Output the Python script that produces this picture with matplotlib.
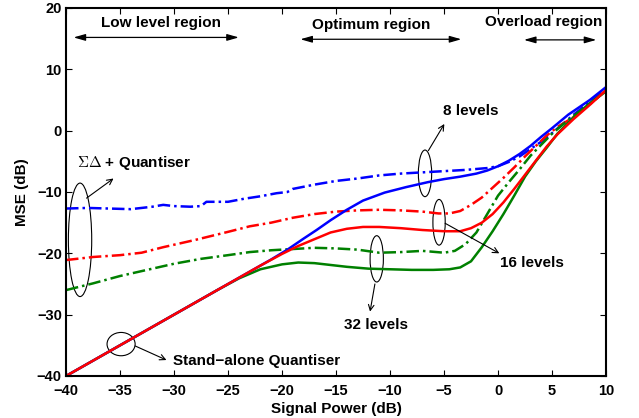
import numpy as np
import matplotlib
matplotlib.use('Agg')
from matplotlib import pyplot as plt
from matplotlib.patches import Ellipse

plt.rcParams['font.family'] = ['Liberation Sans', 'DejaVu Sans']
plt.rcParams['font.weight'] = 'bold'
plt.rcParams['mathtext.fontset'] = 'cm'

# stand-alone quantiser (solid)
x8 = [-40, -24, -21, -19.5, -18, -16.8, -15.5, -14, -12.5, -10.5, -8.5, -6.5, -5, -3.5,
      -2, -1, 0, 1, 2, 3, 4, 5, 6.5, 8.5, 10]
y8 = [-40, -24, -21, -19.4, -17.6, -16.2, -14.6, -12.9, -11.4, -10.1, -9.2, -8.4, -7.9, -7.5,
      -7.0, -6.5, -5.8, -4.9, -3.8, -2.5, -1.0, 0.4, 2.6, 5.0, 7.1]

x16 = [-40, -22, -20, -18.5, -17, -15.5, -14, -12.5, -11, -9, -7, -5, -3.5, -2.5, -1.5,
       -0.5, 0.5, 1.5, 2.5, 3.5, 4.5, 5.5, 7, 8.5, 10]
y16 = [-40, -22, -20.1, -18.8, -17.7, -16.6, -16.0, -15.7, -15.7, -15.9, -16.2, -16.4, -16.4,
       -15.9, -15.0, -13.6, -11.7, -9.5, -7.2, -4.9, -2.6, -0.6, 1.9, 4.2, 6.6]

x32 = [-40, -26, -24, -22, -20, -18.5, -17, -15.5, -14, -12, -10, -8, -6, -4.5, -3.5, -2.5,
       -1.5, -0.5, 0.5, 1.5, 2.5, 3.5, 4.5, 5.5, 7, 8.5, 10]
y32 = [-40, -26, -24.1, -22.6, -21.8, -21.5, -21.6, -21.9, -22.2, -22.5, -22.6, -22.7, -22.7,
       -22.6, -22.3, -21.3, -19.0, -16.4, -13.6, -10.6, -7.5, -5.0, -2.8, -0.5, 2.2, 4.5, 6.4]

# sigma-delta + quantiser (dash-dot)
xs8 = [-40, -38, -36, -34, -32, -31, -30, -28.5, -27.5, -27, -25, -23.5, -22, -20.5, -19.5,
       -19, -17, -15, -13, -11, -9, -7, -5, -3, -1, 0, 1, 2, 3, 4, 5, 6, 7, 8.5, 10]
ys8 = [-12.7, -12.6, -12.7, -12.8, -12.4, -12.1, -12.3, -12.4, -12.3, -11.6, -11.6, -11.1,
       -10.7, -10.2, -10.0, -9.5, -8.8, -8.2, -7.8, -7.3, -7.0, -6.8, -6.6, -6.4, -6.1, -5.8,
       -5.1, -4.2, -3.0, -1.8, -0.4, 1.1, 2.6, 4.7, 6.9]

xs16 = [-40, -37.5, -35, -33, -31, -28, -25, -23, -21, -19, -17, -15, -13, -11, -9, -7, -5.5,
        -4.5, -3.5, -2.5, -1.5, -0.5, 0.5, 1.5, 2.5, 3.5, 4.5, 5.5, 7, 8.5, 10]
ys16 = [-21.1, -20.6, -20.3, -19.9, -19.0, -17.8, -16.5, -15.6, -15.0, -14.2, -13.6, -13.2,
        -13.0, -12.9, -13.0, -13.2, -13.5, -13.5, -13.1, -12.1, -10.9, -9.3, -7.7, -6.0, -4.2,
        -2.5, -0.8, 0.6, 2.2, 4.3, 6.6]

xs32 = [-40, -37.5, -35, -32.5, -30, -27.5, -25, -23, -21, -19, -17, -15, -13, -11, -9, -7,
        -5, -4, -3, -2, -1, 0, 1, 2, 3, 4, 5, 6, 7, 8.5, 10]
ys32 = [-26.0, -24.9, -23.7, -22.7, -21.7, -20.9, -20.3, -19.8, -19.5, -19.3, -19.1, -19.2,
        -19.4, -19.9, -19.8, -19.6, -19.9, -19.6, -18.5, -16.6, -13.6, -10.6, -8.4, -6.3, -4.1,
        -2.3, -0.5, 1.0, 2.4, 4.4, 6.5]

blue, red, green = '#0000ff', '#ff0000', '#008000'
dd = (0, (5, 1.6, 1, 1.6))
lw = 1.8

fig = plt.figure(figsize=(6.39, 4.18), dpi=100)
ax = fig.add_axes([0.1033, 0.1005, 0.8451, 0.8804])

ax.plot(xs8, ys8, color=blue, lw=lw, linestyle=dd)
ax.plot(xs16, ys16, color=red, lw=lw, linestyle=dd)
ax.plot(xs32, ys32, color=green, lw=lw, linestyle=dd)
ax.plot(x32, y32, color=green, lw=lw)
ax.plot(x8, y8, color=blue, lw=lw)
ax.plot(x16, y16, color=red, lw=lw)

ax.set_xlim(-40, 10)
ax.set_ylim(-40, 20)
ax.set_xticks(np.arange(-40, 11, 5))
ax.set_yticks(np.arange(-40, 21, 10))
ax.tick_params(direction='in', top=True, right=True, length=4, width=0.8,
               labelsize=10.5)
ax.tick_params(axis='x', pad=6)
ax.tick_params(axis='y', pad=3)
for s in ax.spines.values():
    s.set_linewidth(1.5)
ax.set_xlabel('Signal Power (dB)', fontsize=11, fontweight='bold', labelpad=3)
ax.set_ylabel('MSE (dB)', fontsize=11, fontweight='bold', labelpad=6)

# region arrows
reg = dict(arrowstyle='<|-|>,head_length=0.7,head_width=0.2', color='k', lw=0.9,
           shrinkA=0, shrinkB=0)
ax.annotate('', xy=(-24.0, 15.2), xytext=(-39.3, 15.2), arrowprops=reg)
ax.annotate('', xy=(-3.4, 14.9), xytext=(-18.3, 14.9), arrowprops=reg)
ax.annotate('', xy=(9.1, 14.8), xytext=(2.4, 14.8), arrowprops=reg)
ax.text(-31.2, 17.5, 'Low level region', fontsize=11, ha='center', va='center')
ax.text(-11.75, 17.2, 'Optimum region', fontsize=11, ha='center', va='center')
ax.text(4.2, 17.7, 'Overload region', fontsize=11, ha='center', va='center')

# ellipses and labels
arr = dict(arrowstyle='->', color='k', lw=0.8, shrinkA=0, shrinkB=0)
for cx, cy, w, h in [(-38.7, -17.8, 2.16, 18.5), (-34.9, -34.8, 2.6, 3.8),
                     (-6.76, -6.96, 1.23, 7.6), (-5.46, -14.94, 1.14, 7.45),
                     (-11.23, -20.9, 1.23, 7.55)]:
    ax.add_patch(Ellipse((cx, cy), w, h, fill=False, edgecolor='k', lw=0.8))

ax.annotate('', xy=(-35.6, -7.8), xytext=(-38.1, -11.0), arrowprops=arr)
ax.text(-39.0, -5.2, r'$\Sigma\Delta$ + Quantiser', fontsize=11, ha='left', va='center')

ax.annotate('', xy=(-30.7, -37.4), xytext=(-33.6, -35.1), arrowprops=arr)
ax.text(-30.1, -37.55, 'Stand\u2212alone Quantiser', fontsize=11, ha='left', va='center')

ax.annotate('', xy=(-4.97, 1.09), xytext=(-6.45, -3.26), arrowprops=arr)
ax.text(-5.07, 3.26, '8 levels', fontsize=11, ha='left', va='center')

ax.annotate('', xy=(0.12, -20.0), xytext=(-4.9, -15.1), arrowprops=arr)
ax.text(0.19, -21.6, '16 levels', fontsize=11, ha='left', va='center')

ax.annotate('', xy=(-11.85, -29.5), xytext=(-11.4, -25.0), arrowprops=arr)
ax.text(-11.3, -31.7, '32 levels', fontsize=11, ha='center', va='center')

fig.savefig('out.png', dpi=100)
